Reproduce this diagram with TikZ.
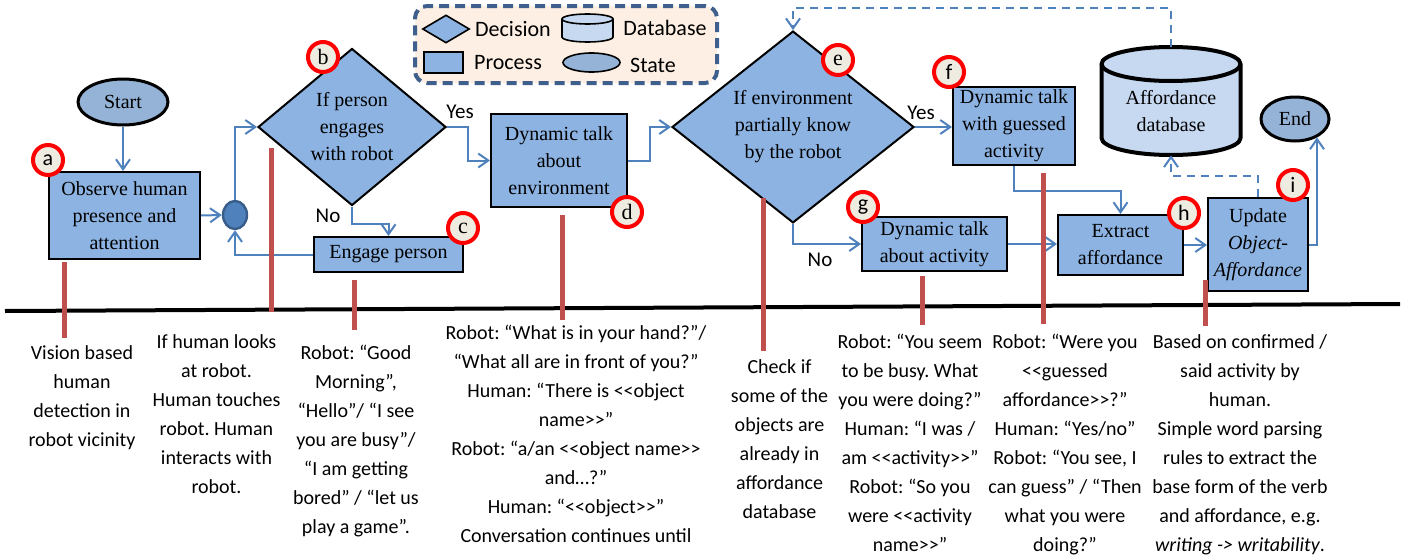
\documentclass[tikz,border=0pt]{standalone}
\usepackage{fontspec}
\setmainfont{Liberation Serif}
\setsansfont{Carlito}
\usetikzlibrary{shapes.geometric,arrows.meta}
\frenchspacing

\definecolor{procfill}{HTML}{8DB3E2}
\definecolor{statefill}{HTML}{95B3D7}
\definecolor{dbfill}{HTML}{C6D9F1}
\definecolor{linkblue}{HTML}{4F81BD}
\definecolor{junctedge}{HTML}{385D8A}
\definecolor{barred}{HTML}{C0504D}
\definecolor{tagfill}{HTML}{EEECE1}
\definecolor{legfill}{HTML}{FDEFE3}
\definecolor{legedge}{HTML}{3F5F8C}

% double angle signs without the << ligature
\newcommand{\opang}{<\kern0pt<}
\newcommand{\clang}{>\kern0pt>}

\tikzset{
  boxfont/.style={font=\rmfamily\fontsize{10}{13.5}\selectfont},
  process/.style={rectangle,draw=black,line width=1pt,fill=procfill,align=center,inner sep=0pt,boxfont},
  decision/.style={diamond,draw=black,line width=1pt,fill=procfill,align=center,inner sep=0pt,boxfont},
  statenode/.style={ellipse,draw=black,line width=1.5pt,fill=statefill,inner sep=0pt,boxfont},
  link/.style={->,draw=linkblue,line width=1pt},
  dblink/.style={link,dashed,dash pattern=on 4pt off 3pt},
  tagmark/.style={circle,draw=red,line width=2pt,fill=tagfill,minimum size=15pt,inner sep=0pt,font=\fontsize{11}{11}\selectfont},
  redbar/.style={draw=barred,line width=2.5pt},
  notetext/.style={align=center,anchor=north,inner sep=0pt,font=\sffamily\fontsize{10}{14.5}\selectfont},
  answer/.style={inner sep=0pt,font=\sffamily\fontsize{10.5}{12}\selectfont},
  legtext/.style={inner sep=0pt,font=\sffamily\fontsize{11}{12}\selectfont}
}

\begin{document}
\begin{tikzpicture}[x=0.5pt,y=-0.5pt,>={Straight Barb[length=5pt,width=7pt]}]
\useasboundingbox (0,0) rectangle (1412,557);

% legend
\node[draw=legedge,line width=2pt,dash pattern=on 5pt off 3pt,rounded corners=6pt,fill=legfill,
      minimum width=151pt,minimum height=38.5pt] (legend) at (566,44.5) {};
\node[diamond,draw=black,line width=0.8pt,fill=procfill,minimum width=23.5pt,minimum height=14pt,inner sep=0pt] (legdec) at (446,29) {};
\node[legtext] (legdectext) at (513,29) {Decision};
\draw[line width=0.8pt,fill=dbfill] (562,19) -- (562,37) arc[start angle=180,end angle=360,x radius=12.75pt,y radius=2.5pt]
  -- (613,19) arc[start angle=0,end angle=180,x radius=12.75pt,y radius=2.5pt] -- cycle;
\draw[line width=0.8pt] (562,19) arc[start angle=180,end angle=360,x radius=12.75pt,y radius=2.5pt];
\node[legtext] (legdbtext) at (665,28) {Database};
\node[rectangle,draw=black,line width=0.8pt,fill=procfill,minimum width=19.5pt,minimum height=10.5pt,inner sep=0pt] (legproc) at (443.5,62.5) {};
\node[legtext] (legproctext) at (508,63) {Process};
\node[ellipse,draw=black,line width=0.8pt,fill=statefill,minimum width=28.5pt,minimum height=9.5pt,inner sep=0pt] (legstate) at (591.5,62.5) {};
\node[legtext] (legstatetext) at (653,65) {State};

% flow chart
\node[statenode,minimum width=45pt,minimum height=23pt] (start) at (123,102) {Start};
\node[process,minimum width=75.5pt,minimum height=43.5pt] (observe) at (124.5,215.5) {Observe human\\presence and\\attention};
\node[ellipse,draw=junctedge,line width=1.2pt,fill=linkblue,minimum width=12pt,minimum height=14pt,inner sep=0pt] (junct) at (235,215) {};
\node[decision,minimum width=94pt,minimum height=78.5pt] (engages) at (352,127) {If person\\engages\\with robot};
\node[process,minimum width=74.5pt,minimum height=17.5pt] (engage) at (388.5,254.5) {Engage person};
\node[process,minimum width=68pt,minimum height=46.5pt] (envtalk) at (559,160.5) {Dynamic talk\\about\\environment};
\node[decision,minimum width=121pt,minimum height=81.5pt] (envknown) at (793,127) {If environment\\partially know\\by the robot};
\node[process,minimum width=61pt,minimum height=39pt] (guesstalk) at (1014,126) {Dynamic talk\\with guessed\\activity};
\node[process,minimum width=72.5pt,minimum height=27pt] (acttalk) at (934.5,244) {Dynamic talk\\about activity};
\node[process,minimum width=62.5pt,minimum height=30pt] (extract) at (1120.5,245) {Extract\\affordance};
\node[process,minimum width=50pt,minimum height=46.5pt] (update) at (1258,244.5) {Update\\\textit{Object-}\\\textit{Affordance}};
\node[statenode,minimum width=34pt,minimum height=22pt] (end) at (1295,119) {End};

% affordance database drum
\draw[line width=2pt,fill=dbfill] (1101.5,64) -- (1101.5,138) arc[start angle=180,end angle=360,x radius=34.75pt,y radius=8.5pt]
  -- (1240.5,64) arc[start angle=0,end angle=180,x radius=34.75pt,y radius=8.5pt] -- cycle;
\draw[line width=2pt] (1101.5,64) arc[start angle=180,end angle=360,x radius=34.75pt,y radius=8.5pt];
\node[minimum width=69.5pt,minimum height=54pt,inner sep=0pt,
      label={[boxfont,align=center,yshift=-5pt]center:Affordance\\database}] (affdb) at (1171,101) {};

\node[answer] (yesb) at (460,112) {Yes};
\node[answer] (nob) at (328,216) {No};
\node[answer] (yese) at (921,113) {Yes};
\node[answer] (noe) at (820,260) {No};

% connectors
\draw[link] (start.south) -- (start.south |- observe.north);
\draw[link] (observe.east) -- (junct.west);
\draw[link] (junct.north) |- (engages.west);
\draw[link] (engages.east) -- ++(21,0) |- (envtalk.west);
\draw[link] (engages.south) -- ++(0,17) -| (engage.north);
\draw[link] (engage.west) -| (junct.south);
\draw[link] (envtalk.east) -- ++(22,0) |- (envknown.west);
\draw[link] (envknown.east) -- (envknown.east -| guesstalk.west);
\draw[link] (envknown.south) |- (acttalk.west);
\draw[link] (acttalk.east) -- (acttalk.east -| extract.west);
\draw[link] (guesstalk.south) -- ++(0,25) -| (extract.north);
\draw[link] (extract.east) -- (extract.east -| update.west);
\draw[link] (update.east) -- (update.east -| end.-40) -- (end.-40);
\draw[dblink] (update.north) -- ++(0,-21) -| (affdb.south);
\draw[dblink] (affdb.north) -- (affdb.north |- 0,8) -| (envknown.north);

% time line and step bars
\draw[line width=2pt] (5,311) -- (1400,304);
\foreach \x/\ya/\yb in {64/262/338,271/148/312,354/280/330,562/215/320,763/198/351,922/276/325,1043/173/324,1205/280/326}
  \draw[redbar] (\x,\ya) -- (\x,\yb);

% step tags
\foreach \lbl/\px/\py/\fnt in {a/48/160/\sffamily,b/323/57/\rmfamily,c/463/228/\rmfamily,d/627/212/\rmfamily,
    e/838/60/\rmfamily,f/949/72/\sffamily,g/863/207/\sffamily,h/1184/213/\sffamily,i/1293/185/\sffamily}
  \node[tagmark] (tag\lbl) at (\px,\py) {\fnt \lbl};

% step notes
\node[notetext] (notea) at (82,345) {Vision based\\human\\detection in\\robot vicinity};
\node[notetext] (noteb) at (216.5,334) {If human looks\\at robot.\\Human touches\\robot. Human\\interacts with\\robot.};
\node[notetext] (notec) at (356,345) {Robot: “Good\\Morning”,\\“Hello”/ “I see\\you are busy”/\\“I am getting\\bored” / “let us\\play a game”.};
\node[notetext] (noted) at (576,325) {Robot: “What is in your hand?”/\\“What all are in front of you?”\\Human: “There is \opang object\\name\clang”\\Robot: “a/an \opang object name\clang\\and…?”\\Human: “\opang object\clang”\\Conversation continues until};
\node[notetext] (notee) at (779.5,359) {Check if\\some of the\\objects are\\already in\\affordance\\database};
\node[notetext] (noteg) at (910,334) {Robot: “You seem\\to be busy. What\\you were doing?”\\Human: “I was /\\am \opang activity\clang”\\Robot: “So you\\were \opang activity\\name\clang”};
\node[notetext] (notef) at (1065,334) {Robot: “Were you\\\opang guessed\\affordance\clang?”\\Human: “Yes/no”\\Robot: “You see, I\\can guess” / “Then\\what you were\\doing?”};
\node[notetext] (noteh) at (1240,334) {Based on confirmed /\\said activity by\\human.\\Simple word parsing\\rules to extract the\\base form of the verb\\and affordance, e.g.\\\textit{writing -> writability}.};
\end{tikzpicture}
\end{document}
